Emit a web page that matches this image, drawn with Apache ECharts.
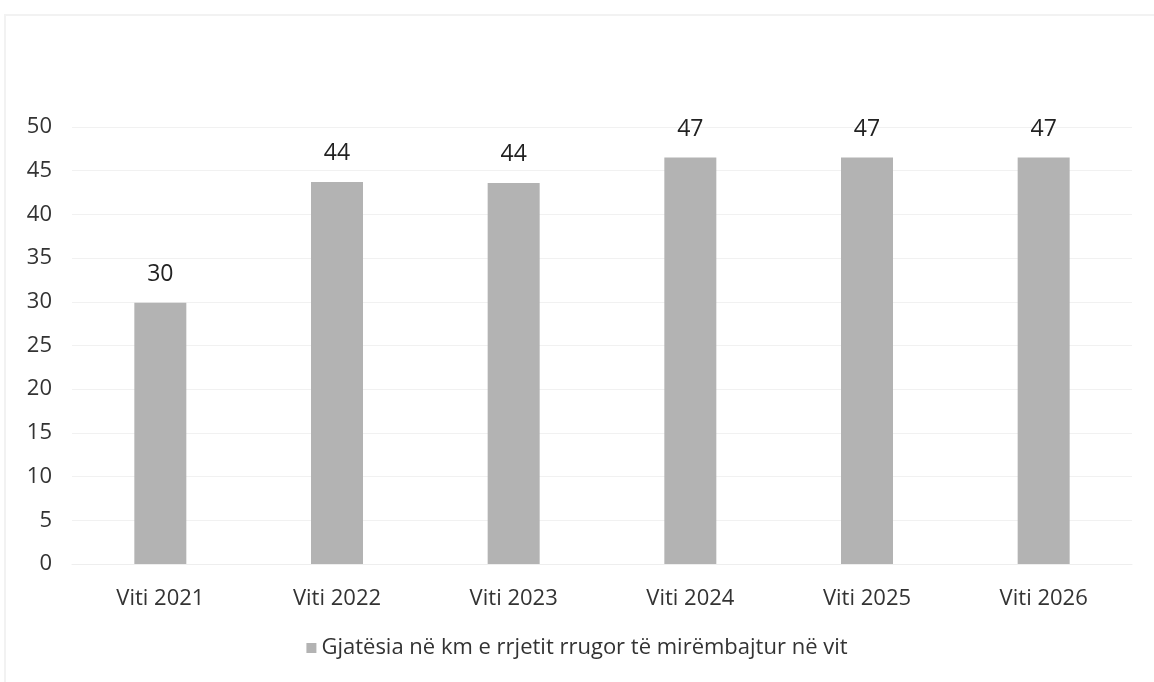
<!DOCTYPE html>
<html><head><meta charset="utf-8">
<script src="https://cdn.jsdelivr.net/npm/echarts@6/dist/echarts.min.js"></script>
<style>html,body{margin:0;padding:0;background:#fff}#c{width:1154px;height:682px}</style>
</head><body><div id="c"></div>
<script>
const categories = ['Viti 2021','Viti 2022','Viti 2023','Viti 2024','Viti 2025','Viti 2026'];
const values = [29.9, 43.7, 43.6, 46.5, 46.5, 46.5];
const seriesName = 'Gjatësia në km e rrjetit rrugor të mirëmbajtur në vit';
const font = '"Open Sans", sans-serif';
const chart = echarts.init(document.getElementById('c'));
chart.setOption({
  animation: false,
  backgroundColor: '#fff',
  textStyle: {fontFamily: font},
  graphic: [{type:'rect', shape:{x:5,y:15,width:1160,height:700}, style:{fill:'none', stroke:'#f2f2f2', lineWidth:2}, silent:true}],
  grid: {left: 72, right: 22, top: 127, bottom: 118},
  xAxis: {
    type: 'category', data: categories,
    axisLine: {show: true, lineStyle: {color: '#eeeeee'}},
    axisTick: {show: false},
    axisLabel: {color: '#333', fontSize: 22, margin: 24, fontFamily: font}
  },
  yAxis: {
    type: 'value', min: 0, max: 50, interval: 5,
    axisLine: {show: false}, axisTick: {show: false},
    splitLine: {lineStyle: {color: '#f1f1f1', width: 1}},
    axisLabel: {color: '#333', fontSize: 22, margin: 20, fontFamily: font}
  },
  legend: {
    bottom: 18, left: 'center', icon: 'rect', itemWidth: 10, itemHeight: 10, itemGap: 8,
    textStyle: {color: '#333', fontSize: 22, fontFamily: font},
    data: [seriesName]
  },
  series: [{
    name: seriesName, type: 'bar', data: values, barWidth: 52,
    itemStyle: {color: '#b3b3b3'},
    label: {show: true, position: 'top', distance: 17, color: '#222', fontSize: 23, fontFamily: font,
            formatter: p => Math.round(p.value)}
  }]
});
</script></body></html>
